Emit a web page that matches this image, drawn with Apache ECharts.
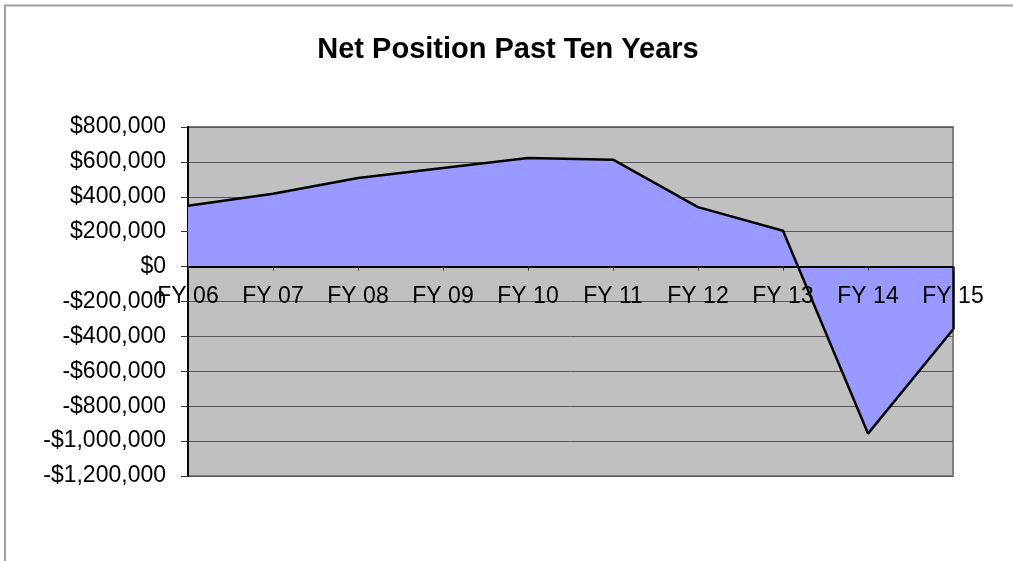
<!DOCTYPE html>
<html>
<head>
<meta charset="utf-8">
<script src="https://cdn.jsdelivr.net/npm/echarts@6/dist/echarts.min.js"></script>
<style>
html,body{margin:0;padding:0;background:#fff;}
#chart{width:1013px;height:561px;}
</style>
</head>
<body>
<div id="chart"></div>
<script>
var titleText = 'Net Position Past Ten Years';
var categories = ['FY 06','FY 07','FY 08','FY 09','FY 10','FY 11','FY 12','FY 13','FY 14','FY 15'];
var netPosition = [349000, 418000, 508000, 565000, 623000, 613000, 341000, 205000, -957000, -360000];
var yMin = -1200000, yMax = 800000, yStep = 200000;

function money(v){
  var s = Math.abs(v).toString().replace(/\B(?=(\d{3})+(?!\d))/g, ',');
  return (v < 0 ? '-$' : '$') + s;
}

var FONT = 'Liberation Sans, Arial, sans-serif';
var lastIdx = categories.length - 1;
var chart = echarts.init(document.getElementById('chart'));
chart.setOption({
  animation: false,
  backgroundColor: '#ffffff',
  textStyle: { fontFamily: FONT },
  title: {
    text: titleText,
    left: 503, top: 30, textAlign: 'center',
    textStyle: { fontFamily: FONT, fontWeight: 'bold', fontSize: 29, color: '#000' }
  },
  graphic: [{
    type: 'rect', silent: true, z: 100,
    shape: { x: 5, y: 5.5, width: 1200, height: 1000 },
    style: { fill: 'none', stroke: '#a0a0a0', lineWidth: 2 }
  }],
  grid: {
    left: 188, right: 60, top: 127, bottom: 85,
    show: true, backgroundColor: '#c0c0c0', borderColor: '#808080', borderWidth: 2
  },
  xAxis: {
    type: 'category', data: categories, boundaryGap: false,
    position: 'bottom', offset: 0,
    axisLine: { onZero: false, lineStyle: { color: '#000', width: 2 } },
    axisTick: { show: true, length: 4, inside: false, lineStyle: { color: '#333', width: 1 } },
    axisLabel: { color: '#000', fontSize: 23, margin: 19, fontFamily: FONT },
    splitLine: { show: false },
    z: 5
  },
  yAxis: {
    type: 'value', min: yMin, max: yMax, interval: yStep,
    axisLine: { show: true, onZero: false, lineStyle: { color: '#000', width: 2 } },
    axisTick: { show: true, length: 7, lineStyle: { color: '#333', width: 1 } },
    axisLabel: { color: '#000', fontSize: 23, margin: 22, formatter: money, fontFamily: FONT },
    splitLine: { show: true, lineStyle: { color: '#555', width: 1 } }
  },
  series: [{
    type: 'line', data: netPosition,
    showSymbol: false, symbol: 'none',
    lineStyle: { color: '#000', width: 2.5 },
    areaStyle: { color: '#9999ff', opacity: 1, origin: 'auto' },
    markLine: {
      silent: true, symbol: ['none','none'],
      label: { show: false },
      lineStyle: { color: '#000', width: 2.5, type: 'solid' },
      data: [[{ coord: [categories[lastIdx], 0] }, { coord: [categories[lastIdx], netPosition[lastIdx]] }]]
    }
  }]
});
// move the category axis (line, ticks, labels) up to the zero line of the value scale
var zeroY = chart.convertToPixel({ yAxisIndex: 0 }, 0);
var minY = chart.convertToPixel({ yAxisIndex: 0 }, yMin);
chart.setOption({ xAxis: { offset: -(minY - zeroY) } });
</script>
</body>
</html>
